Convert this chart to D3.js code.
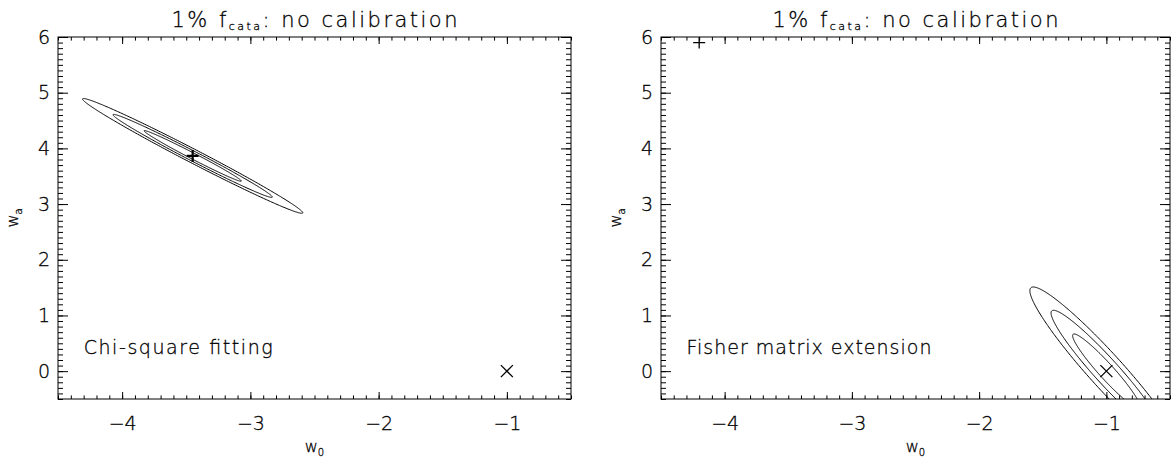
<!DOCTYPE html>
<html><head><meta charset="utf-8">
<script src="https://cdn.jsdelivr.net/npm/d3@7"></script>
<style>
body{margin:0;background:#fff;}
svg{display:block;font-family:"DejaVu Sans",sans-serif;font-weight:200;}
svg text{fill:#000;stroke:#000;stroke-width:0.3px;}
</style></head><body>
<svg id="chart" width="1175" height="465"></svg>
<script>
// ---- data ----
const xDomain = [-4.5, -0.5];
const yDomain = [-0.5, 6];
const xTicks = [-4, -3, -2, -1];
const yTicks = [0, 1, 2, 3, 4, 5, 6];
const deltaChi2Levels = [2.30, 6.17, 11.8];
const panelNames = ["Chi-square fitting", "Fisher matrix extension"];
const contourCenterW0 = [-3.45, -1.0];
const contourCenterWa = [3.865, 0.0];
const sigmaW0 = [0.25, 0.175];
const sigmaWa = [0.30, 0.44];
const corrW0Wa = [-0.991, -0.955];
const plusW0 = [-3.45, -4.2];
const plusWa = [3.865, 5.9];
const crossW0 = [-1, -1];
const crossWa = [0, 0];
const labelW0 = [-4.3, -4.3];
const labelWa = [0.3, 0.3];

// ---- layout ----
const panels = [{l: 58, r: 571}, {l: 661, r: 1170}];
const labelWidths = [189, 245];
const plotTop = 37, plotBottom = 399;
const svg = d3.select("#chart");

panels.forEach((p, i) => {
  const x = d3.scaleLinear().domain(xDomain).range([p.l, p.r]);
  const y = d3.scaleLinear().domain(yDomain).range([plotBottom, plotTop]);
  const g = svg.append("g");

  const clipId = "clip" + i;
  svg.append("clipPath").attr("id", clipId).append("rect")
    .attr("x", p.l).attr("y", plotTop).attr("width", p.r - p.l).attr("height", plotBottom - plotTop);

  // contours
  const line = d3.line().x(d => x(d[0])).y(d => y(d[1]));
  const cg = g.append("g").attr("clip-path", `url(#${clipId})`);
  const rho = corrW0Wa[i];
  deltaChi2Levels.forEach(lv => {
    const k = Math.sqrt(lv);
    const pts = d3.range(0, 361).map(a => {
      const t = a * Math.PI / 180;
      return [contourCenterW0[i] + k * sigmaW0[i] * Math.cos(t),
              contourCenterWa[i] + k * sigmaWa[i] * (rho * Math.cos(t) + Math.sqrt(1 - rho * rho) * Math.sin(t))];
    });
    cg.append("path").attr("d", line(pts)).attr("fill", "none")
      .attr("stroke", "#000").attr("stroke-width", 1);
  });

  // markers
  const px = x(plusW0[i]), py = y(plusWa[i]);
  cg.append("path").attr("d", `M${px-6},${py}H${px+6}M${px},${py-6}V${py+6}`)
    .attr("stroke", "#000").attr("stroke-width", i === 0 ? 2.2 : 1.3).attr("fill", "none");
  const cx = x(crossW0[i]), cy = y(crossWa[i]);
  cg.append("path").attr("d", `M${cx-6},${cy-6}L${cx+6},${cy+6}M${cx-6},${cy+6}L${cx+6},${cy-6}`)
    .attr("stroke", "#000").attr("stroke-width", 1.3).attr("fill", "none");

  // axes
  const minorX = d3.range(-4.5, -0.45, 0.1).map(v => +v.toFixed(2));
  const minorY = d3.range(-0.5, 6.05, 0.1).map(v => +v.toFixed(2));
  const fmt = d3.format("d");
  const ax = (gen) => g.append("g").call(gen)
    .attr("font-family", null).attr("font-size", 19)
    .call(s => s.select(".domain").remove())
    .call(s => s.selectAll("line").attr("stroke", "#000"))
    .call(s => s.selectAll("text").attr("fill", "#000"));

  ax(d3.axisBottom(x).tickValues(xTicks).tickSize(-7).tickPadding(18).tickFormat(fmt))
    .attr("transform", `translate(0,${plotBottom})`);
  ax(d3.axisBottom(x).tickValues(minorX).tickSize(-3.6).tickFormat(""))
    .attr("transform", `translate(0,${plotBottom})`);
  ax(d3.axisTop(x).tickValues(xTicks).tickSize(-7).tickFormat(""))
    .attr("transform", `translate(0,${plotTop})`);
  ax(d3.axisTop(x).tickValues(minorX).tickSize(-3.6).tickFormat(""))
    .attr("transform", `translate(0,${plotTop})`);
  ax(d3.axisLeft(y).tickValues(yTicks).tickSize(-10).tickPadding(8).tickFormat(fmt))
    .attr("transform", `translate(${p.l},0)`);
  ax(d3.axisLeft(y).tickValues(minorY).tickSize(-5).tickFormat(""))
    .attr("transform", `translate(${p.l},0)`);
  ax(d3.axisRight(y).tickValues(yTicks).tickSize(-10).tickFormat(""))
    .attr("transform", `translate(${p.r},0)`);
  ax(d3.axisRight(y).tickValues(minorY).tickSize(-5).tickFormat(""))
    .attr("transform", `translate(${p.r},0)`);

  // frame
  g.append("rect").attr("x", p.l).attr("y", plotTop).attr("width", p.r - p.l).attr("height", plotBottom - plotTop)
    .attr("fill", "none").attr("stroke", "#000").attr("stroke-width", 1);

  // title
  const t = g.append("text").attr("x", (p.l + p.r) / 2).attr("y", 27)
    .attr("text-anchor", "middle").attr("font-size", 21)
    .attr("textLength", 286).attr("lengthAdjust", "spacing");
  t.append("tspan").text("1% f");
  t.append("tspan").attr("font-size", 11).attr("dy", 3).text("cata");
  t.append("tspan").attr("dy", -3).text(": no calibration");

  // axis titles
  const xt = g.append("text").attr("x", (p.l + p.r) / 2).attr("y", 452)
    .attr("text-anchor", "middle").attr("font-size", 16);
  xt.append("tspan").text("w");
  xt.append("tspan").attr("font-size", 10).attr("dy", 4).text("0");
  const yt = g.append("text").attr("transform", `translate(${p.l - 40},${(plotTop + plotBottom) / 2}) rotate(-90)`)
    .attr("text-anchor", "middle").attr("font-size", 16);
  yt.append("tspan").text("w");
  yt.append("tspan").attr("font-size", 10).attr("dy", 4).text("a");

  // panel label
  g.append("text").attr("x", x(labelW0[i])).attr("y", y(labelWa[i]))
    .attr("font-size", 19)
    .attr("textLength", labelWidths[i]).attr("lengthAdjust", "spacing").text(panelNames[i]);
});
</script>
</body></html>
